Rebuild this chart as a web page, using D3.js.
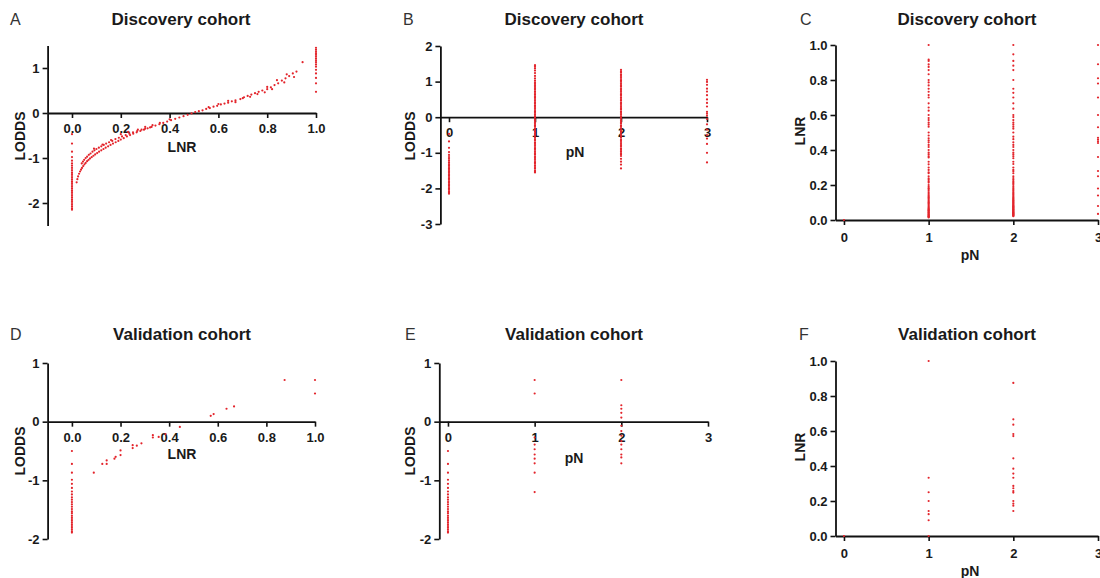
<!DOCTYPE html>
<html>
<head>
<meta charset="utf-8">
<script src="https://cdn.jsdelivr.net/npm/d3@7"></script>
<style>
body { margin: 0; background: #fff; }
svg { display: block; font-family: "Liberation Sans", Arial, sans-serif; }
.axis .domain { stroke: #111; stroke-width: 1.8; }
.axis .tick line { stroke: #111; stroke-width: 1.6; }
.axis .tick text { font-size: 13px; font-weight: bold; fill: #1a1a1a; }
.title { font-size: 17px; font-weight: bold; fill: #1a1a1a; }
.letter { font-size: 16px; fill: #333; }
.label { font-size: 14px; font-weight: bold; fill: #1a1a1a; }
</style>
</head>
<body>
<svg id="chart" width="1100" height="578"></svg>
<script>
// ---- discovery cohort ----
// LODDS of node negative patients (LNR = 0, pN = 0)
var discNodeNeg = [-0.47,-0.68,-0.86,-0.98,-1.06,-1.12,-1.17,-1.22,-1.27,-1.32,-1.36,-1.40,-1.44,-1.48,-1.52,-1.56,-1.60,-1.64,-1.68,-1.72,-1.76,-1.80,-1.84,-1.88,-1.92,-1.96,-2.00,-2.04,-2.08,-2.12,-2.15];
// LODDS of patients with all nodes positive (LNR = 1)
var discAllPos = [0.47,0.66,0.78,0.88,0.96,1.03,1.08,1.13,1.17,1.21,1.25,1.29,1.33,1.37,1.41,1.45];
// [LNR, LODDS] for 0 < LNR < 1
var discCurve = [
  [0.019,-1.54],[0.022,-1.47],[0.025,-1.41],[0.029,-1.35],[0.033,-1.30],[0.037,-1.26],[0.041,-1.22],[0.046,-1.18],
  [0.051,-1.14],[0.056,-1.11],[0.062,-1.07],[0.068,-1.04],[0.074,-1.01],[0.081,-0.98],[0.088,-0.95],[0.095,-0.92],
  [0.103,-0.89],[0.111,-0.86],[0.120,-0.83],[0.129,-0.80],[0.138,-0.77],[0.148,-0.74],[0.158,-0.71],[0.168,-0.68],
  [0.179,-0.65],[0.190,-0.62],[0.200,-0.59],[0.212,-0.56],[0.225,-0.52],[0.238,-0.49],[0.251,-0.46],[0.265,-0.43],
  [0.280,-0.40],[0.295,-0.37],[0.310,-0.34],[0.326,-0.31],[0.342,-0.28],[0.358,-0.25],[0.374,-0.22],[0.390,-0.19],
  [0.406,-0.16],[0.423,-0.13],[0.440,-0.10],[0.457,-0.07],[0.474,-0.04],[0.490,-0.01],
  [0.040,-1.12],[0.045,-1.08],[0.050,-1.04],[0.056,-1.00],[0.062,-0.97],[0.069,-0.93],[0.076,-0.90],[0.084,-0.86],
  [0.092,-0.83],[0.100,-0.80],[0.110,-0.77],[0.120,-0.74],[0.130,-0.71],[0.140,-0.68],[0.152,-0.65],[0.165,-0.62],
  [0.178,-0.58],[0.192,-0.55],[0.205,-0.52],[0.220,-0.49],[0.235,-0.46],[0.250,-0.43],[0.267,-0.40],[0.285,-0.37],
  [0.300,-0.35],[0.320,-0.32],
  [0.090,-0.79],[0.125,-0.70],[0.160,-0.60],[0.200,-0.47],[0.230,-0.42],[0.270,-0.37],[0.300,-0.31],[0.330,-0.27],
  [0.360,-0.22],[0.400,-0.14],
  [0.505,0.02],[0.520,0.04],[0.535,0.06],[0.550,0.09],[0.565,0.11],[0.580,0.14],[0.595,0.16],[0.610,0.19],
  [0.625,0.21],[0.640,0.23],[0.655,0.26],[0.670,0.28],[0.690,0.31],[0.705,0.35],[0.720,0.38],[0.735,0.41],
  [0.750,0.44],[0.765,0.47],[0.780,0.50],[0.800,0.53],[0.815,0.57],[0.830,0.62],[0.845,0.66],[0.860,0.72],
  [0.875,0.77],[0.890,0.82],[0.905,0.88],[0.920,0.92],[0.945,1.13],
  [0.560,0.13],[0.600,0.20],[0.640,0.27],[0.670,0.24],[0.700,0.33],[0.730,0.36],[0.760,0.42],[0.790,0.46],
  [0.800,0.58],[0.820,0.53],[0.840,0.73],[0.870,0.68],[0.880,0.86],[0.910,0.80]
];
// LODDS by pN stage
var discPn1Lodds = [1.46,1.42,1.37,1.31,1.24,1.16,1.09,1.03,0.98,0.94,0.90,0.85,0.81,0.77,0.72,0.68,0.64,0.59,0.55,0.51,0.46,0.42,0.38,0.33,0.29,0.25,0.20,0.16,0.12,0.07,0.03,-0.01,-0.06,-0.10,-0.14,-0.19,-0.23,-0.27,-0.32,-0.36,-0.40,-0.45,-0.49,-0.53,-0.58,-0.62,-0.66,-0.71,-0.75,-0.79,-0.84,-0.88,-0.92,-0.97,-1.01,-1.05,-1.10,-1.14,-1.18,-1.23,-1.27,-1.31,-1.36,-1.40,-1.44,-1.49,-1.53,-1.55];
var discPn2Lodds = [1.33,1.29,1.25,1.20,1.16,1.12,1.07,1.03,0.99,0.94,0.90,0.86,0.81,0.77,0.73,0.68,0.64,0.60,0.55,0.51,0.47,0.42,0.38,0.34,0.29,0.25,0.21,0.16,0.12,0.08,0.03,-0.01,-0.05,-0.10,-0.14,-0.18,-0.23,-0.27,-0.31,-0.36,-0.40,-0.44,-0.49,-0.53,-0.57,-0.62,-0.66,-0.70,-0.75,-0.79,-0.83,-0.88,-0.92,-0.96,-1.01,-1.05,-1.09,-1.17,-1.25,-1.33,-1.44];
var discPn3Lodds = [1.05,0.99,0.91,0.80,0.72,0.62,0.50,0.40,0.30,0.15,0.10,0.04,-0.05,-0.20,-0.35,-0.50,-0.60,-0.75,-1.00,-1.27];
// LNR by pN stage
var discPn1Lnr = [1.00,0.917,0.909,0.889,0.875,0.857,0.833,0.80,0.786,0.769,0.75,0.733,0.714,0.70,0.667,0.643,0.625,0.60,0.583,0.571,0.556,0.545,0.533,0.50,0.483,0.467,0.455,0.444,0.429,0.417,0.40,0.385,0.375,0.364,0.357,0.333,0.318,0.30,0.286,0.273,0.267,0.25,0.238,0.231,0.222,0.214,0.20,0.19,0.182,0.176,0.167,0.158,0.15,0.143,0.136,0.13,0.125,0.118,0.111,0.105,0.10,0.095,0.09,0.083,0.077,0.071,0.067,0.063,0.059,0.056,0.053,0.05,0.045,0.042,0.038,0.034,0.031,0.028,0.025,0.022,0.02,0.017,0.015];
var discPn2Lnr = [1.00,0.947,0.909,0.882,0.857,0.80,0.75,0.727,0.70,0.667,0.636,0.60,0.588,0.571,0.556,0.545,0.533,0.522,0.50,0.476,0.462,0.444,0.429,0.417,0.40,0.385,0.375,0.364,0.353,0.333,0.32,0.30,0.286,0.278,0.267,0.25,0.24,0.231,0.222,0.214,0.207,0.20,0.19,0.182,0.174,0.167,0.16,0.154,0.148,0.143,0.136,0.13,0.125,0.12,0.115,0.111,0.107,0.103,0.10,0.095,0.091,0.087,0.083,0.08,0.077,0.074,0.071,0.068,0.065,0.062,0.059,0.056,0.053,0.05,0.047,0.044,0.042,0.04,0.037,0.035,0.032,0.03,0.027,0.025,0.022];
var discPn3Lnr = [1.00,0.89,0.81,0.78,0.70,0.60,0.53,0.47,0.46,0.45,0.44,0.36,0.28,0.25,0.18,0.14,0.08,0.035];

// ---- validation cohort ----
var valNodeNeg = [-0.50,-0.72,-0.87,-0.99,-1.06,-1.13,-1.19,-1.24,-1.29,-1.33,-1.37,-1.41,-1.45,-1.49,-1.53,-1.56,-1.60,-1.63,-1.66,-1.69,-1.72,-1.75,-1.78,-1.81,-1.84,-1.87,-1.89];
var valCurve = [
  [0.09,-0.87],[0.125,-0.72],[0.143,-0.66],[0.143,-0.72],[0.175,-0.63],[0.18,-0.60],[0.20,-0.49],[0.20,-0.57],
  [0.25,-0.40],[0.25,-0.45],[0.267,-0.41],[0.286,-0.37],[0.333,-0.23],[0.333,-0.27],[0.357,-0.26],[0.385,-0.21],
  [0.444,-0.09],[0.571,0.10],[0.583,0.13],[0.636,0.22],[0.667,0.26],[0.875,0.71],[1.0,0.71],[1.0,0.48]
];
var valPn1Lodds = [0.71,0.48,-0.27,-0.39,-0.47,-0.56,-0.63,-0.71,-0.87,-1.20];
var valPn2Lodds = [0.71,0.28,0.22,0.15,0.07,-0.07,-0.16,-0.24,-0.33,-0.39,-0.47,-0.56,-0.61,-0.71];
var valPn1Lnr = [1.0,0.333,0.25,0.20,0.143,0.125,0.09,0.0];
var valPn2Lnr = [0.875,0.667,0.636,0.583,0.571,0.444,0.385,0.357,0.333,0.286,0.273,0.257,0.248,0.20,0.185,0.173,0.143];

var lnrTicks = [0, 0.2, 0.4, 0.6, 0.8, 1.0];
var pnTicks = [0, 1, 2, 3];

var svg = d3.select("#chart");
svg.append("rect").attr("width", 1100).attr("height", 578).attr("fill", "#fff");

var at = function(x, arr) { return arr.map(function(v) { return [x, v]; }); };

// plain hyphen for negatives, like the original figure
var fmt1 = function(d) { return d.toFixed(1); };
var fmt0 = function(d) { return String(d); };

var panels = [
  { letter: "A", title: "Discovery cohort", lx: 10, ty: 25, tx: 181,
    xd: [-0.1, 1], xr: [47.6, 316], yd: [-2.5, 1.5], yr: [225.5, 45.5],
    xTicks: lnrTicks, xFmt: fmt1, yTicks: [-2, -1, 0, 1], yFmt: fmt0, xAxisAt: 0, xPad: 6,
    xLabel: "LNR", xlx: 182, xly: 152, yLabel: "LODDS", ylx: 25, yly: 136,
    pts: at(0, discNodeNeg).concat(discCurve, at(1, discAllPos)) },
  { letter: "B", title: "Discovery cohort", lx: 403, ty: 25, tx: 574,
    xd: [-0.1, 3], xr: [440.4, 707], yd: [-3, 2], yr: [224, 46],
    xTicks: pnTicks, xFmt: fmt0, yTicks: [-3, -2, -1, 0, 1, 2], yFmt: fmt0, xAxisAt: 0, xPad: 6,
    xLabel: "pN", xlx: 575, xly: 157, yLabel: "LODDS", ylx: 415, yly: 136,
    pts: at(0, discNodeNeg).concat(at(1, discPn1Lodds), at(2, discPn2Lodds), at(3, discPn3Lodds)) },
  { letter: "C", title: "Discovery cohort", lx: 800, ty: 25, tx: 967,
    xd: [-0.1, 3], xr: [835.5, 1098], yd: [0, 1], yr: [220, 45],
    xTicks: pnTicks, xFmt: fmt0, yTicks: lnrTicks, yFmt: fmt1, xAxisAt: 0, xPad: 8,
    xLabel: "pN", xlx: 970, xly: 260, yLabel: "LNR", ylx: 805, yly: 131,
    pts: [[0, 0]].concat(at(1, discPn1Lnr), at(2, discPn2Lnr), at(3, discPn3Lnr)) },
  { letter: "D", title: "Validation cohort", lx: 10, ty: 340, tx: 182,
    xd: [-0.1, 1], xr: [47.6, 315], yd: [-2, 1], yr: [539, 363],
    xTicks: lnrTicks, xFmt: fmt1, yTicks: [-2, -1, 0, 1], yFmt: fmt0, xAxisAt: 0, xPad: 6,
    xLabel: "LNR", xlx: 182, xly: 459, yLabel: "LODDS", ylx: 25, yly: 451,
    pts: at(0, valNodeNeg).concat(valCurve) },
  { letter: "E", title: "Validation cohort", lx: 405, ty: 340, tx: 574,
    xd: [-0.1, 3], xr: [439.3, 708], yd: [-2, 1], yr: [539, 363],
    xTicks: pnTicks, xFmt: fmt0, yTicks: [-2, -1, 0, 1], yFmt: fmt0, xAxisAt: 0, xPad: 6,
    xLabel: "pN", xlx: 574, xly: 463, yLabel: "LODDS", ylx: 415, yly: 451,
    pts: at(0, valNodeNeg).concat(at(1, valPn1Lodds), at(2, valPn2Lodds)) },
  { letter: "F", title: "Validation cohort", lx: 799, ty: 340, tx: 967,
    xd: [-0.1, 3], xr: [835.5, 1098], yd: [0, 1], yr: [536, 361],
    xTicks: pnTicks, xFmt: fmt0, yTicks: lnrTicks, yFmt: fmt1, xAxisAt: 0, xPad: 8,
    xLabel: "pN", xlx: 970, xly: 576, yLabel: "LNR", ylx: 805, yly: 447,
    pts: [[0, 0]].concat(at(1, valPn1Lnr), at(2, valPn2Lnr)) }
];

panels.forEach(function(p) {
  var g = svg.append("g");
  var x = d3.scaleLinear().domain(p.xd).range(p.xr);
  var y = d3.scaleLinear().domain(p.yd).range(p.yr);

  g.append("g").attr("class", "axis")
    .attr("transform", "translate(0," + y(p.xAxisAt) + ")")
    .call(d3.axisBottom(x).tickValues(p.xTicks).tickFormat(p.xFmt)
      .tickSize(5).tickSizeOuter(0).tickPadding(p.xPad));

  g.append("g").attr("class", "axis")
    .attr("transform", "translate(" + x(p.xd[0]) + ",0)")
    .call(d3.axisLeft(y).tickValues(p.yTicks).tickFormat(p.yFmt)
      .tickSize(5).tickSizeOuter(0).tickPadding(3));

  g.selectAll(".axis").attr("font-size", null).attr("font-family", null);

  g.append("g").selectAll("circle")
    .data(p.pts)
    .enter()
    .append("circle")
    .attr("cx", function(d) { return x(d[0]); })
    .attr("cy", function(d) { return y(d[1]); })
    .attr("r", 1.1)
    .attr("fill", "#e3242b");

  g.append("text").attr("class", "letter").attr("x", p.lx).attr("y", p.ty).text(p.letter);
  g.append("text").attr("class", "title").attr("x", p.tx).attr("y", p.ty)
    .attr("text-anchor", "middle").text(p.title);
  g.append("text").attr("class", "label").attr("x", p.xlx).attr("y", p.xly)
    .attr("text-anchor", "middle").text(p.xLabel);
  g.append("text").attr("class", "label")
    .attr("transform", "translate(" + p.ylx + "," + p.yly + ") rotate(-90)")
    .attr("text-anchor", "middle").text(p.yLabel);
});
</script>
</body>
</html>
